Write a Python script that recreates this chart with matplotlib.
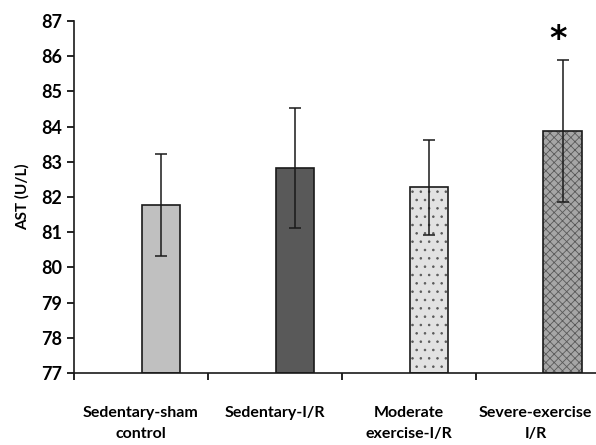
import matplotlib.pyplot as plt
import matplotlib.transforms as mtransforms
import numpy as np

groups = ["Sedentary-sham\ncontrol", "Sedentary-I/R", "Moderate\nexercise-I/R", "Severe-exercise\nI/R"]
ast_mean = [81.77, 82.82, 82.28, 83.87]
ast_err = [1.44, 1.70, 1.35, 2.02]
star = [False, False, False, True]

colors = ["#c0c0c0", "#595959", "#e2e2e2", "#a6a6a6"]
hatches = [None, None, "..", "xxxx"]

plt.rcParams['font.family'] = ['Lato', 'Liberation Sans', 'DejaVu Sans']
plt.rcParams['hatch.linewidth'] = 0.6

fig = plt.figure(figsize=(5.96, 4.45), dpi=100)
ax = fig.add_axes([0.124, 0.162, 0.876, 0.791])

x = np.arange(len(groups))
xb = x + 0.65
bars = ax.bar(xb, [m - 77 for m in ast_mean], bottom=77, width=0.285,
              color=colors, edgecolor="#1a1a1a", linewidth=1.2, zorder=2)
for b, h in zip(bars, hatches):
    if h:
        b.set_hatch(h)
        b._hatch_color = (0.35, 0.35, 0.35, 1)
ax.errorbar(xb, ast_mean, yerr=ast_err, fmt="none", ecolor="#1a1a1a",
            elinewidth=1.1, capsize=4, capthick=1.1, zorder=3)
for xi, m, e, s in zip(xb, ast_mean, ast_err, star):
    if s:
        ax.text(xi - 0.03, m + e + 0.12, "*", ha="center", va="bottom",
                fontsize=24, fontweight="bold", family="DejaVu Sans")

ax.set_ylim(77, 87)
ax.set_yticks(range(77, 88))
ax.set_xlim(0, 3.9)
ax.set_xticks(x)
ax.set_xticklabels([])
ax.set_xticks(x + 0.5, minor=True)
ax.set_xticklabels(groups, minor=True, fontsize=11.5, fontweight="bold",
                   linespacing=1.6)
ax.tick_params(axis="x", which="minor", length=0, pad=24)
ax.tick_params(axis="x", which="major", direction="out", length=5, width=1.2)
ax.tick_params(axis="y", direction="out", length=5, width=1.2, labelsize=13)
for lab in ax.get_yticklabels():
    lab.set_fontweight("bold")
last = ax.get_xticklabels(minor=True)[-1]
last.set_transform(last.get_transform() +
                   mtransforms.ScaledTranslation(-7 / 100, 0, fig.dpi_scale_trans))
ax.set_ylabel("AST (U/L)", fontsize=11, fontweight="bold", labelpad=8)

for side in ["top", "right"]:
    ax.spines[side].set_visible(False)
for side in ["left", "bottom"]:
    ax.spines[side].set_linewidth(1.2)
    ax.spines[side].set_color("#1a1a1a")

fig.savefig("out.png", dpi=100)
